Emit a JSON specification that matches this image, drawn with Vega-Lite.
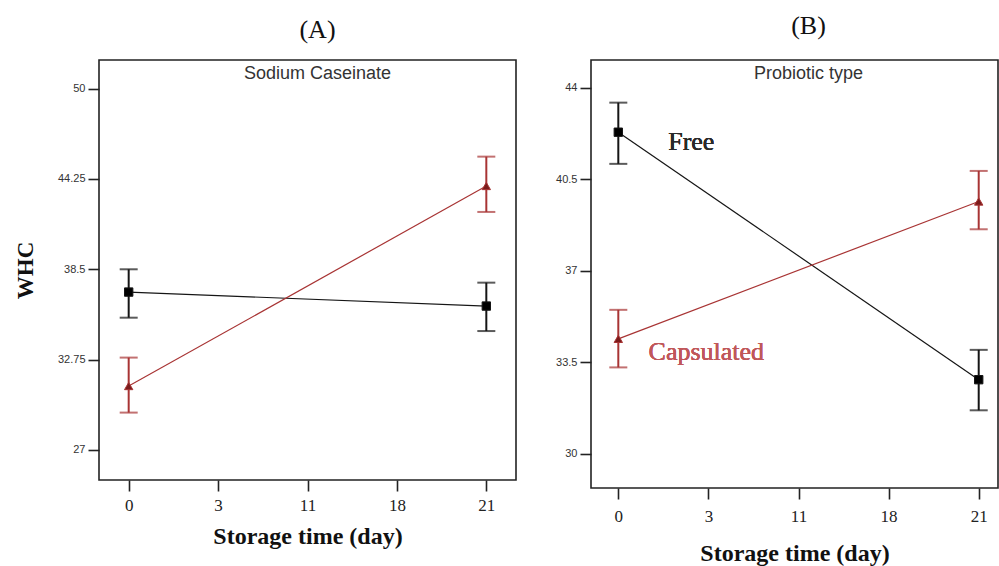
{
  "$schema": "https://vega.github.io/schema/vega-lite/v6.json",
  "background": "white",
  "padding": {"left": 13, "top": 12, "right": 0, "bottom": 0},
  "spacing": 75,
  "bounds": "flush",
  "datasets": {
    "whc": [
      {"panel": "A", "series": "Level 1", "day": "0", "value": 37.05, "lo": 35.42, "hi": 38.5},
      {"panel": "A", "series": "Level 1", "day": "21", "value": 36.16, "lo": 34.57, "hi": 37.65},
      {"panel": "A", "series": "Level 2", "day": "0", "value": 31.07, "lo": 29.38, "hi": 32.88},
      {"panel": "A", "series": "Level 2", "day": "21", "value": 43.8, "lo": 42.15, "hi": 45.67},
      {"panel": "B", "series": "Free", "day": "0", "value": 42.3, "lo": 41.09, "hi": 43.43},
      {"panel": "B", "series": "Free", "day": "21", "value": 32.84, "lo": 31.67, "hi": 33.98},
      {"panel": "B", "series": "Capsulated", "day": "0", "value": 34.4, "lo": 33.31, "hi": 35.51},
      {"panel": "B", "series": "Capsulated", "day": "21", "value": 39.65, "lo": 38.59, "hi": 40.82}
    ]
  },
  "config": {
    "view": {"stroke": "#222222", "strokeWidth": 1.6},
    "axis": {"grid": false, "domain": false, "tickColor": "#222222", "tickWidth": 1.6, "tickSize": 11},
    "title": {"font": "Liberation Serif", "fontSize": 26, "fontWeight": "normal", "color": "#111111", "subtitleFont": "Liberation Sans", "subtitleFontSize": 18, "subtitleColor": "#333333", "anchor": "middle", "frame": "group"}
  },
  "hconcat": [
    {
      "width": 417,
      "height": 420,
      "data": {"name": "whc"},
      "transform": [{"filter": "datum.panel === 'A'"}],
      "title": {"text": "(A)", "subtitle": "Sodium Caseinate", "offset": -23, "subtitlePadding": 22, "dx": 10},
      "encoding": {
        "x": {
          "field": "day", "type": "ordinal",
          "scale": {"type": "point", "domain": ["0", "3", "11", "18", "21"], "padding": 0.332},
          "axis": {"labelAngle": 0, "labelFont": "Liberation Serif", "labelFontSize": 17, "labelColor": "#222222", "labelPadding": 6,
                   "title": "Storage time (day)", "titleFont": "Liberation Serif", "titleFontSize": 24, "titleFontWeight": "bold", "titleColor": "#111111", "titlePadding": 11}
        }
      },
      "layer": [
        {
          "mark": {"type": "line", "strokeWidth": 1.2},
          "encoding": {
            "y": {"field": "value", "type": "quantitative",
                  "scale": {"domain": [25.09, 51.82], "nice": false, "zero": false},
                  "axis": {"values": [27, 32.75, 38.5, 44.25, 50], "labelExpr": "'' + datum.value", "labelFont": "Liberation Sans", "labelFontSize": 11, "labelColor": "#333333", "labelPadding": 3,
                           "title": "WHC", "titleFont": "Liberation Serif", "titleFontSize": 23, "titleFontWeight": "bold", "titleColor": "#111111", "titlePadding": 20}},
            "color": {"field": "series", "type": "nominal", "scale": {"domain": ["Level 1", "Level 2"], "range": ["#151515", "#a83434"]}, "legend": null}
          }
        },
        {
          "mark": {"type": "rule", "strokeWidth": 2},
          "encoding": {
            "y": {"field": "lo", "type": "quantitative"},
            "y2": {"field": "hi"},
            "color": {"field": "series", "type": "nominal", "legend": null}
          }
        },
        {
          "mark": {"type": "tick", "size": 18, "thickness": 2},
          "encoding": {
            "y": {"field": "lo", "type": "quantitative"},
            "color": {"field": "series", "type": "nominal", "legend": null}
          }
        },
        {
          "mark": {"type": "tick", "size": 18, "thickness": 2},
          "encoding": {
            "y": {"field": "hi", "type": "quantitative"},
            "color": {"field": "series", "type": "nominal", "legend": null}
          }
        },
        {
          "mark": {"type": "point", "filled": false, "opacity": 1, "size": 70, "strokeWidth": 1},
          "encoding": {
            "y": {"field": "value", "type": "quantitative"},
            "shape": {"field": "series", "type": "nominal", "scale": {"domain": ["Level 1", "Level 2"], "range": ["square", "triangle-up"]}, "legend": null},
            "fill": {"field": "series", "type": "nominal", "scale": {"domain": ["Level 1", "Level 2"], "range": ["#000000", "#7a1c1c"]}, "legend": null},
            "color": {"field": "series", "type": "nominal", "legend": null}
          }
        }
      ]
    },
    {
      "width": 407,
      "height": 428,
      "data": {"name": "whc"},
      "transform": [{"filter": "datum.panel === 'B'"}],
      "title": {"text": "(B)", "subtitle": "Probiotic type", "offset": -23, "subtitlePadding": 26, "dx": 14},
      "encoding": {
        "x": {
          "field": "day", "type": "ordinal",
          "scale": {"type": "point", "domain": ["0", "3", "11", "18", "21"], "padding": 0.2586, "align": 0.586},
          "axis": {"labelAngle": 0, "labelFont": "Liberation Serif", "labelFontSize": 17, "labelColor": "#222222", "labelPadding": 9,
                   "title": "Storage time (day)", "titleFont": "Liberation Serif", "titleFontSize": 24, "titleFontWeight": "bold", "titleColor": "#111111", "titlePadding": 17}
        }
      },
      "layer": [
        {
          "mark": {"type": "line", "strokeWidth": 1.2},
          "encoding": {
            "y": {"field": "value", "type": "quantitative",
                  "scale": {"domain": [28.7, 45.06], "nice": false, "zero": false},
                  "axis": {"values": [30, 33.5, 37, 40.5, 44], "labelExpr": "'' + datum.value", "labelFont": "Liberation Sans", "labelFontSize": 11, "labelColor": "#333333", "labelPadding": 3, "title": null}},
            "color": {"field": "series", "type": "nominal", "scale": {"domain": ["Free", "Capsulated"], "range": ["#151515", "#a83434"]}, "legend": null}
          }
        },
        {
          "mark": {"type": "rule", "strokeWidth": 2},
          "encoding": {
            "y": {"field": "lo", "type": "quantitative"},
            "y2": {"field": "hi"},
            "color": {"field": "series", "type": "nominal", "legend": null}
          }
        },
        {
          "mark": {"type": "tick", "size": 18, "thickness": 2},
          "encoding": {
            "y": {"field": "lo", "type": "quantitative"},
            "color": {"field": "series", "type": "nominal", "legend": null}
          }
        },
        {
          "mark": {"type": "tick", "size": 18, "thickness": 2},
          "encoding": {
            "y": {"field": "hi", "type": "quantitative"},
            "color": {"field": "series", "type": "nominal", "legend": null}
          }
        },
        {
          "mark": {"type": "point", "filled": false, "opacity": 1, "size": 70, "strokeWidth": 1},
          "encoding": {
            "y": {"field": "value", "type": "quantitative"},
            "shape": {"field": "series", "type": "nominal", "scale": {"domain": ["Free", "Capsulated"], "range": ["square", "triangle-up"]}, "legend": null},
            "fill": {"field": "series", "type": "nominal", "scale": {"domain": ["Free", "Capsulated"], "range": ["#000000", "#7a1c1c"]}, "legend": null},
            "color": {"field": "series", "type": "nominal", "legend": null}
          }
        },
        {
          "mark": {"type": "text", "text": "Free", "font": "Liberation Serif", "fontSize": 26, "fontWeight": "normal", "color": "#2a2a2a", "align": "center", "baseline": "middle", "dx": 73},
          "encoding": {"x": {"datum": "0"}, "y": {"datum": 41.94}}
        },
        {
          "mark": {"type": "text", "text": "Capsulated", "font": "Liberation Serif", "fontSize": 26, "fontWeight": "normal", "color": "#c0575a", "align": "center", "baseline": "middle", "dx": 88},
          "encoding": {"x": {"datum": "0"}, "y": {"datum": 33.88}}
        }
      ]
    }
  ]
}
